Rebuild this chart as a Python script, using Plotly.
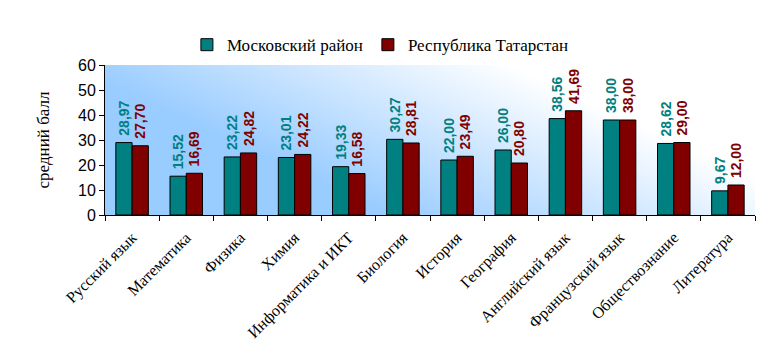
import base64
import plotly.graph_objects as go

categories = ["Русский язык", "Математика", "Физика", "Химия", "Информатика и ИКТ",
              "Биология", "История", "География", "Английский язык", "Французский язык",
              "Обществознание", "Литература"]
moscow = [28.97, 15.52, 23.22, 23.01, 19.33, 30.27, 22.00, 26.00, 38.56, 38.00, 28.62, 9.67]
tatarstan = [27.70, 16.69, 24.82, 24.22, 16.58, 28.81, 23.49, 20.80, 41.69, 38.00, 29.00, 12.00]
series_names = ["Московский район", "Республика Татарстан"]
y_ticks = [0, 10, 20, 30, 40, 50, 60]

SERIF = "Liberation Serif"

def fmt(v):
    return "\u00a0" + f"{v:.2f}".replace(".", ",")

svg = ('<svg xmlns="http://www.w3.org/2000/svg" width="650" height="150" preserveAspectRatio="none">'
       '<defs><linearGradient id="g" x1="0" y1="0.75" x2="1" y2="0.25">'
       '<stop offset="0" stop-color="#99ccff"/>'
       '<stop offset="0.25" stop-color="#99ccff"/>'
       '<stop offset="0.8" stop-color="#ffffff"/>'
       '<stop offset="1" stop-color="#ffffff"/>'
       '</linearGradient></defs>'
       '<rect width="650" height="150" fill="url(#g)"/></svg>')
uri = "data:image/svg+xml;base64," + base64.b64encode(svg.encode()).decode()

fig = go.Figure()
for name, vals, col in [(series_names[0], moscow, "#008080"), (series_names[1], tatarstan, "#800000")]:
    fig.add_trace(go.Bar(
        x=categories, y=vals, name=name,
        marker=dict(color=col, line=dict(color="black", width=1)),
        text=[fmt(v) for v in vals], textposition="outside", textangle=-90,
        textfont=dict(family="Arial", size=14, color=col, weight="bold"),
        cliponaxis=False,
    ))

fig.update_layout(
    width=760, height=347,
    margin=dict(l=97, r=13, t=57, b=140, autoexpand=False),
    paper_bgcolor="white", plot_bgcolor="rgba(0,0,0,0)",
    barmode="group", bargap=0.4, bargroupgap=0,
    uniformtext=dict(minsize=14, mode="show"),
    showlegend=True,
    legend=dict(orientation="h", x=0.49, xanchor="center", xref="container",
                y=0.893, yanchor="middle", yref="container",
                font=dict(family=SERIF, size=17, color="black"),
                itemwidth=30, traceorder="normal"),
    images=[dict(source=uri, xref="paper", yref="paper", x=0, y=1, sizex=1, sizey=1,
                 sizing="stretch", layer="below")],
    yaxis=dict(range=[0, 60], tickvals=y_ticks, showgrid=False, zeroline=False, automargin=False,
               showline=True, linecolor="black", linewidth=1, ticks="outside", ticklen=5,
               tickcolor="black", tickfont=dict(family="Arial", size=16, color="black"),
               title=dict(text="средний балл", font=dict(family=SERIF, size=17, color="black"),
                          standoff=24)),
    xaxis=dict(showgrid=False, showline=True, linecolor="black", linewidth=1, automargin=False,
               ticks="outside", ticklen=5, tickcolor="black", tickson="boundaries",
               ticklabelstandoff=6,
               tickangle=-45, tickfont=dict(family=SERIF, size=16, color="black")),
)
fig.write_html("out.html")
